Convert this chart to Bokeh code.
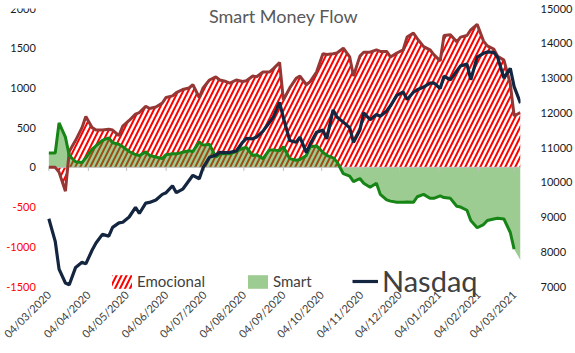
import pandas as pd
from math import pi
from bokeh.plotting import figure
from bokeh.models import (Range1d, LinearAxis, DatetimeTickFormatter, FixedTicker,
                          Label, Legend, LegendItem, ColumnDataSource)
from bokeh.embed import file_html
from bokeh.resources import INLINE

# ---------------- data ----------------
dates = pd.date_range("2020-03-04", "2021-03-09", freq="3B")

emocional = [0, 0, -60, -300, 200, 340, 500, 640, 500, 470,
             470, 480, 470, 400, 520, 590, 670, 690, 770, 740,
             760, 810, 880, 900, 940, 980, 1000, 1040, 880, 1000,
             1100, 1140, 1100, 1080, 1060, 1100, 1080, 1090, 1150, 1140,
             1200, 1200, 1240, 1320, 850, 1000, 1120, 1150, 1040, 1080,
             1200, 1430, 1420, 1430, 1440, 1500, 1390, 1150, 1400, 1450,
             1450, 1480, 1460, 1460, 1390, 1440, 1480, 1640, 1690, 1620,
             1520, 1480, 1420, 1340, 1660, 1670, 1580, 1640, 1660, 1730,
             1800, 1590, 1530, 1490, 1400, 1350, 1050, 650, 690]

smart = [180, 180, 560, 380, 150, 70, 60, 120, 230, 270,
         340, 370, 310, 290, 260, 200, 160, 150, 195, 150,
         130, 110, 160, 170, 170, 190, 210, 200, 320, 280,
         290, 130, 170, 170, 170, 200, 240, 250, 150, 160,
         110, 220, 220, 210, 260, 110, 90, 100, 150, 260,
         270, 190, 150, 120, 70, -80, -110, -180, -140, -200,
         -250, -200, -340, -410, -425, -440, -440, -435, -440, -370,
         -340, -390, -390, -360, -380, -390, -490, -500, -540, -670,
         -760, -720, -670, -650, -640, -650, -820, -1030, -1170]

nasdaq = [8950, 8300, 7500, 7100, 7050, 7550, 7700, 7650, 8050, 8250,
          8500, 8450, 8700, 8830, 8850, 9000, 9280, 9100, 9400, 9420,
          9490, 9650, 9700, 9900, 9700, 9800, 10050, 10200, 10100, 10420,
          10720, 10780, 10860, 10850, 10860, 10900, 11150, 11260, 11250, 11300,
          11470, 11720, 11870, 12300, 11850, 11200, 11150, 11300, 10850, 11100,
          11440, 11500, 11250, 12080, 11880, 11730, 11570, 11150, 11500, 12000,
          11800, 11950, 11900, 12050, 12200, 12500, 12600, 12380, 12590, 12660,
          12740, 12850, 12860, 12700, 13050, 12950, 13200, 13350, 13400, 12950,
          13600, 13710, 13750, 13740, 13600, 13000, 13280, 12750, 12275]

left_ticks = [-1500, -1000, -500, 0, 500, 1000, 1500, 2000]
right_ticks = [7000, 8000, 9000, 10000, 11000, 12000, 13000, 14000, 15000]
month_ticks = pd.date_range("2020-03-04", "2021-03-04", freq=pd.DateOffset(months=1))

title_text = "Smart Money Flow"
series_names = ["Emocional", "Smart", "Nasdaq"]

# ---------------- styling / layout ----------------
FONT = "Lato"
HATCH_RED = "#ff0000"
BROWN = "#953735"
GREEN_FILL = "#399925"
GREEN_LINE = "#168516"
NAVY = "#14253f"
TEXT_GRAY = "#404040"

W, H = 575, 353
PLOT_L, PLOT_R = 49, 527       # pixel span of the dated data
PLOT_T, PLOT_B = 8, 286        # pixel span of the value axes
FRAME_B = 298                  # frame extends a little below the value axis (legend room)


def ms(ts):
    return pd.Timestamp(ts).timestamp() * 1000.0


x_start = ms(dates[0])
x_end = ms(dates[-1])
tick_ms = [ms(t) for t in month_ticks]

# ranges extended so that the frame can start at the canvas left edge
mpp = (x_end - x_start) / (PLOT_R - PLOT_L)
xr = Range1d(x_start - PLOT_L * mpp, x_end)
lmin, lmax = min(left_ticks), max(left_ticks)
lpp = (lmax - lmin) / (PLOT_B - PLOT_T)
yr = Range1d(lmin - (FRAME_B - PLOT_B) * lpp, lmax)
rmin, rmax = min(right_ticks), max(right_ticks)
rpp = (rmax - rmin) / (PLOT_B - PLOT_T)
yr_right = Range1d(rmin - (FRAME_B - PLOT_B) * rpp, rmax)

src = ColumnDataSource(dict(date=list(dates), emocional=emocional, smart=smart, nasdaq=nasdaq))

p = figure(width=W, height=H, x_axis_type="datetime",
           x_range=xr, y_range=yr, y_axis_location=None,
           min_border_left=0, min_border_right=W - PLOT_R, min_border_top=PLOT_T,
           min_border_bottom=H - FRAME_B,
           output_backend="svg", toolbar_location=None, outline_line_color=None,
           background_fill_color="white", border_fill_color="white")
p.xgrid.visible = False
p.ygrid.visible = False
p.extra_y_ranges = {"nasdaq": yr_right}

# areas
r_emo_area = p.varea(x="date", y1=0, y2="emocional", source=src,
                     fill_color="white", hatch_pattern="/", hatch_color=HATCH_RED,
                     hatch_scale=10, hatch_weight=2.0)
r_smart_area = p.varea(x="date", y1=0, y2="smart", source=src,
                       fill_color=GREEN_FILL, fill_alpha=0.5)

# zero axis line + its ticks
p.segment(x0=[x_start], x1=[x_end], y0=[0], y1=[0], line_color="#bfbfbf", line_width=1)
p.segment(x0=tick_ms, x1=tick_ms, y0=[0] * len(tick_ms), y1=[-45] * len(tick_ms),
          line_color="#bfbfbf", line_width=1)

# lines
p.line(x="date", y="emocional", source=src, line_color=BROWN, line_width=3)
p.line(x=list(dates[:-1]), y=smart[:-1], line_color=GREEN_LINE, line_width=3)
r_nasdaq = p.line(x="date", y="nasdaq", source=src, y_range_name="nasdaq",
                  line_color=NAVY, line_width=3.2)

# x axis (labels only)
xa = p.xaxis[0]
xa.ticker = FixedTicker(ticks=tick_ms)
xa.formatter = DatetimeTickFormatter(days="%d/%m/%Y", months="%d/%m/%Y", years="%d/%m/%Y")
xa.major_label_orientation = pi / 4
xa.axis_line_color = None
xa.major_tick_line_color = None
xa.minor_tick_line_color = None
xa.major_tick_out = 0
xa.major_label_text_font = FONT
xa.major_label_text_font_size = "11px"
xa.major_label_text_color = TEXT_GRAY
xa.major_label_standoff = 6 - (FRAME_B - PLOT_B)

# right axis
ra = LinearAxis(y_range_name="nasdaq", ticker=FixedTicker(ticks=right_ticks))
ra.axis_line_color = None
ra.major_tick_line_color = None
ra.minor_tick_line_color = None
ra.major_label_standoff = 14
ra.major_label_text_font = FONT
ra.major_label_text_font_size = "11px"
ra.major_label_text_color = "#1a1a1a"
p.add_layout(ra, "right")

# left axis labels (negative values in red)
for v in left_ticks:
    p.add_layout(Label(x=x_start, y=v, x_offset=-13, text=str(v),
                       text_align="right", text_baseline="middle",
                       text_font=FONT, text_font_size="11px",
                       text_color="#ff0000" if v < 0 else "#1a1a1a"))

# title inside the plot area
p.add_layout(Label(x=283, y=FRAME_B - 15, x_units="screen", y_units="screen", text=title_text,
                   text_align="center", text_baseline="middle",
                   text_font=FONT, text_font_size="18px", text_color="#595959"))

# legends
leg1 = Legend(items=[LegendItem(label=series_names[0], renderers=[r_emo_area]),
                     LegendItem(label=series_names[1], renderers=[r_smart_area])],
              orientation="horizontal", location=(109, FRAME_B - 290),
              glyph_width=25, glyph_height=17, label_height=17, label_standoff=3,
              spacing=40, padding=0, margin=0,
              label_text_font=FONT, label_text_font_size="15px", label_text_color=TEXT_GRAY,
              border_line_color=None, background_fill_alpha=0)
leg2 = Legend(items=[LegendItem(label=series_names[2], renderers=[r_nasdaq])],
              location=(352, FRAME_B - 298),
              glyph_width=26, glyph_height=20, label_standoff=4, padding=0, margin=0,
              label_text_font=FONT, label_text_font_size="29px", label_text_color=TEXT_GRAY,
              border_line_color=None, background_fill_alpha=0)
p.add_layout(leg1, "center")
p.add_layout(leg2, "center")

open("out.html", "w").write(file_html(p, INLINE))
